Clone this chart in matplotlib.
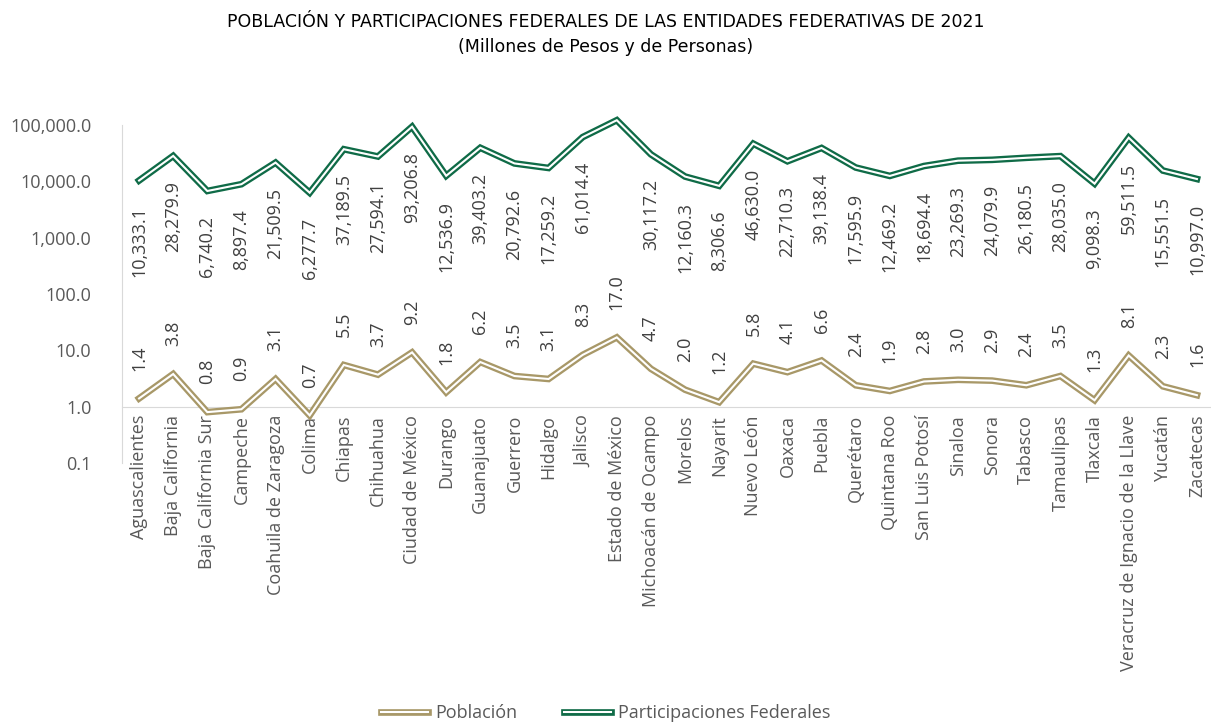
import matplotlib
matplotlib.use("Agg")
import matplotlib.pyplot as plt
import matplotlib.patheffects as pe
from matplotlib.ticker import FuncFormatter, FixedLocator, NullLocator

estados = ["Aguascalientes", "Baja California", "Baja California Sur", "Campeche",
           "Coahuila de Zaragoza", "Colima", "Chiapas", "Chihuahua", "Ciudad de México",
           "Durango", "Guanajuato", "Guerrero", "Hidalgo", "Jalisco", "Estado de México",
           "Michoacán de Ocampo", "Morelos", "Nayarit", "Nuevo León", "Oaxaca", "Puebla",
           "Querétaro", "Quintana Roo", "San Luis Potosí", "Sinaloa", "Sonora", "Tabasco",
           "Tamaulipas", "Tlaxcala", "Veracruz de Ignacio de la Llave", "Yucatán", "Zacatecas"]

poblacion = [1.4, 3.8, 0.8, 0.9, 3.1, 0.7, 5.5, 3.7, 9.2, 1.8, 6.2, 3.5, 3.1, 8.3, 17.0,
             4.7, 2.0, 1.2, 5.8, 4.1, 6.6, 2.4, 1.9, 2.8, 3.0, 2.9, 2.4, 3.5, 1.3, 8.1, 2.3, 1.6]

participaciones = [10333.1, 28279.9, 6740.2, 8897.4, 21509.5, 6277.7, 37189.5, 27594.1,
                   93206.8, 12536.9, 39403.2, 20792.6, 17259.2, 61014.4, 121652.9, 30117.2,
                   12160.3, 8306.6, 46630.0, 22710.3, 39138.4, 17595.9, 12469.2, 18694.4,
                   23269.3, 24079.9, 26180.5, 28035.0, 9098.3, 59511.5, 15551.5, 10997.0]

y_ticks = [0.1, 1, 10, 100, 1000, 10000, 100000]

tan = "#A89868"
green = "#0F6B47"
txt = "#404040"
plt.rcParams["font.family"] = ["Open Sans", "DejaVu Sans"]

fig = plt.figure(figsize=(12.11, 7.23), dpi=100)
ax = fig.add_axes([122 / 1211, 1 - 463 / 723, 1092 / 1211, 338 / 723])

x = list(range(len(estados)))


def double_line(values, color, label):
    ax.plot(x, values, color="white", lw=1.5, label=label, solid_joinstyle="miter",
            path_effects=[pe.Stroke(linewidth=4.8, foreground=color, joinstyle="miter"),
                          pe.Normal()], zorder=3, clip_on=False)


double_line(poblacion, tan, "Población")
double_line(participaciones, green, "Participaciones Federales")

for i, v in enumerate(poblacion):
    ax.annotate(f"{v:,.1f}", (i, v), xytext=(0, 20), textcoords="offset points",
                rotation=90, ha="center", va="bottom", fontsize=13, color=txt)
for i, v in enumerate(participaciones):
    ax.annotate(f"{v:,.1f}", (i, v), xytext=(0, -18), textcoords="offset points",
                rotation=90, ha="center", va="top", fontsize=13, color=txt)

ax.set_yscale("log")
ax.set_ylim(0.1, 100000)
ax.set_xlim(-0.5, 31.5)
ax.yaxis.set_major_locator(FixedLocator(y_ticks))
ax.yaxis.set_minor_locator(NullLocator())
ax.yaxis.set_major_formatter(FuncFormatter(lambda v, p: f"{v:,.1f}"))
ax.tick_params(axis="y", length=0, pad=22, labelsize=13, labelcolor="#595959")

ax.set_xticks(x)
ax.set_xticklabels(estados)
ax.tick_params(axis="x", length=0, pad=6, labelsize=13, labelcolor="#595959",
               labelrotation=90)
for lab in ax.get_xticklabels():
    lab.set_verticalalignment("top")
    lab.set_horizontalalignment("center")

for s in ["top", "right"]:
    ax.spines[s].set_visible(False)
ax.spines["left"].set_color("#D9D9D9")
ax.spines["bottom"].set_color("#D9D9D9")
ax.spines["bottom"].set_position(("data", 1))

fig.text(0.5, 1 - 22 / 723, "POBLACIÓN Y PARTICIPACIONES FEDERALES DE LAS ENTIDADES FEDERATIVAS DE 2021",
         ha="center", va="center", fontsize=12.5, color="black",
         family=["Liberation Sans Narrow", "DejaVu Sans"])
fig.text(0.5, 1 - 47 / 723, "(Millones de Pesos y de Personas)",
         ha="center", va="center", fontsize=12.5, color="black",
         family=["Liberation Sans Narrow", "DejaVu Sans"])

fig.legend(loc="center", bbox_to_anchor=(0.5, 1 - 713 / 723), ncol=2, frameon=False,
           fontsize=13, labelcolor="#595959", handlelength=2.6, columnspacing=2.6,
           handletextpad=0.4)

fig.savefig("out.png", dpi=100, facecolor="white")
